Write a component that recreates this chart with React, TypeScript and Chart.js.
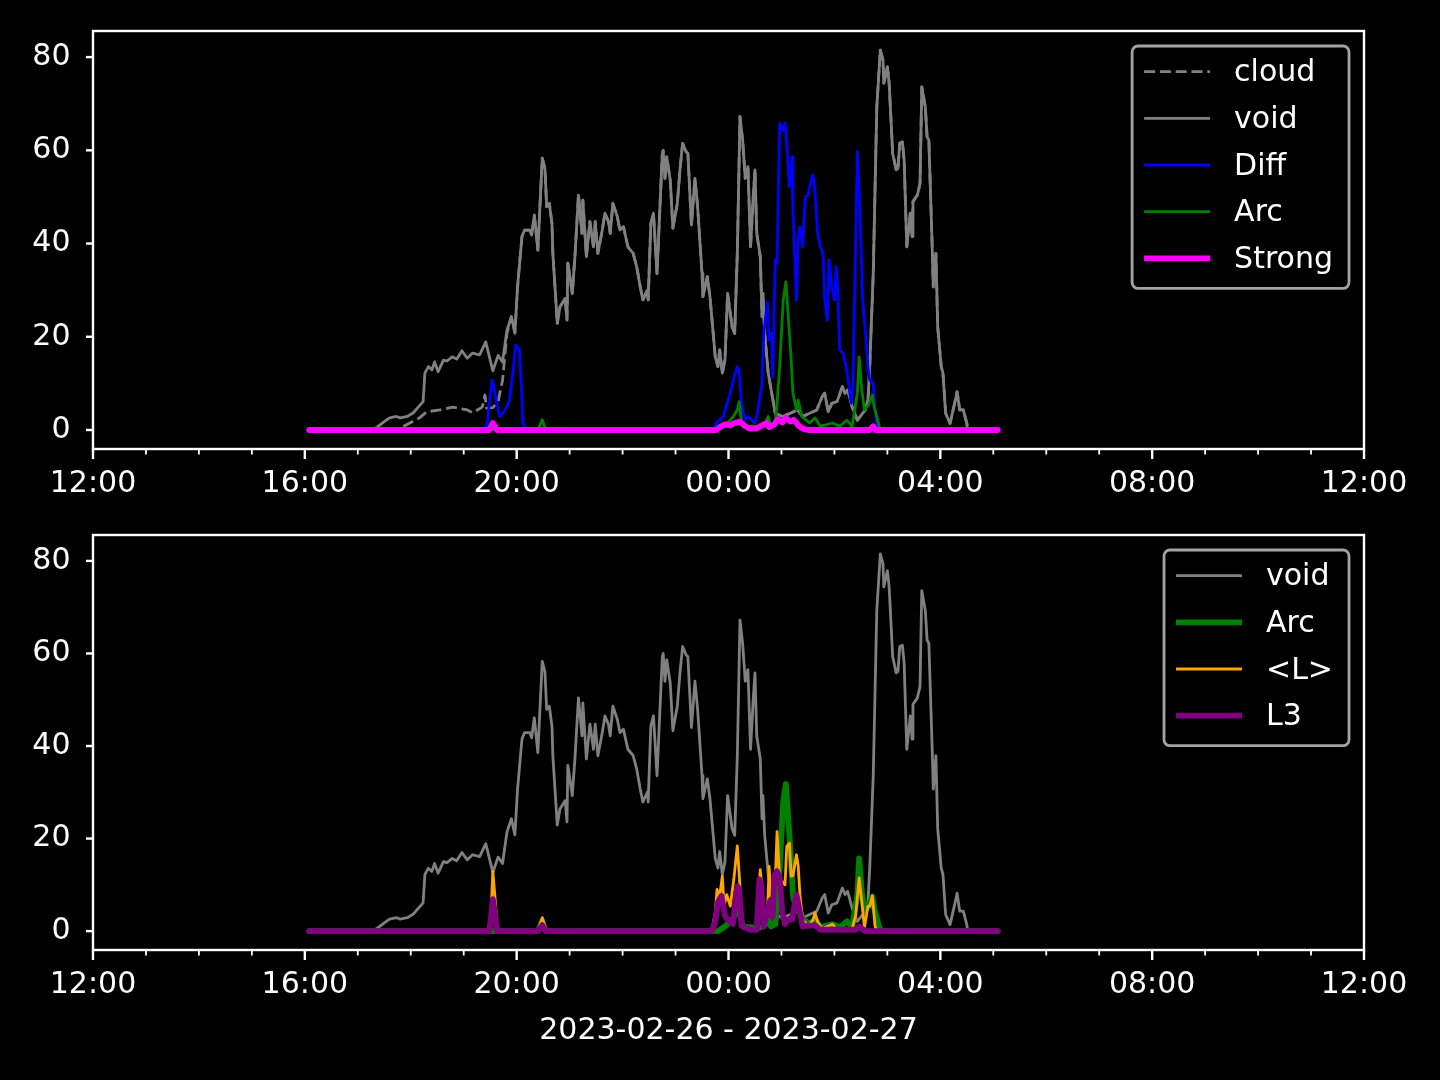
import React, { useEffect, useRef } from "react";
import { Chart, registerables } from "chart.js";
Chart.register(...registerables);

// ---------------- data ----------------
// time of day (2023-02-26 12:00 -> 2023-02-27 12:00), value
const voidSeries: [string, number][] = [
  ["16:05", 0], ["17:16", 0], ["17:22", 0.6], ["17:30", 1.8], ["17:36", 2.6], ["17:44", 2.9], ["17:48", 2.6], ["17:56", 2.9],
  ["18:03", 3.7], ["18:08", 4.8], ["18:14", 6.1], ["18:16", 12.2], ["18:20", 13.6], ["18:24", 12.9], ["18:27", 14.6], ["18:31", 12.5],
  ["18:37", 15], ["18:41", 14.8], ["18:47", 15.7], ["18:52", 15.2], ["18:58", 17], ["19:04", 15.4], ["19:10", 16.5], ["19:18", 16.1],
  ["19:25", 18.9], ["19:30", 15], ["19:33", 12.7], ["19:39", 16], ["19:44", 14.6], ["19:49", 21.4], ["19:54", 24.3], ["19:58", 20.8],
  ["20:01", 30.7], ["20:06", 41.5], ["20:09", 42.9], ["20:15", 42.9], ["20:17", 41.8], ["20:20", 46.1], ["20:24", 38.6], ["20:29", 58.3],
  ["20:32", 56.1], ["20:34", 47.9], ["20:37", 48.6], ["20:40", 44.3], ["20:41", 37.9], ["20:46", 22.9], ["20:49", 26.4], ["20:55", 28.2],
  ["20:57", 23.6], ["20:58", 35.8], ["21:03", 29.3], ["21:06", 37.2], ["21:10", 50.4], ["21:14", 42.2], ["21:15", 49.3], ["21:19", 37.2],
  ["21:23", 44.7], ["21:27", 39.3], ["21:29", 44.7], ["21:32", 37.9], ["21:37", 42.9], ["21:40", 46.5], ["21:44", 44.7], ["21:46", 42.2],
  ["21:49", 48.6], ["21:54", 45.8], ["21:57", 42.9], ["22:01", 43.6], ["22:06", 39.3], ["22:12", 37.9], ["22:16", 35], ["22:20", 30.7],
  ["22:23", 27.9], ["22:28", 30], ["22:29", 27.9], ["22:32", 44.3], ["22:35", 46.5], ["22:39", 33.6], ["22:45", 59.3], ["22:46", 60],
  ["22:48", 54], ["22:50", 58.6], ["22:54", 53.6], ["22:57", 43.3], ["23:02", 48.6], ["23:05", 55.8], ["23:08", 61.5], ["23:12", 59.7],
  ["23:14", 59.3], ["23:18", 44], ["23:22", 54], ["23:25", 47.9], ["23:30", 33.6], ["23:31", 28.6], ["23:36", 32.9], ["23:39", 28.6],
  ["23:45", 15.7], ["23:48", 13.6], ["23:50", 17.2], ["23:53", 12.2], ["23:56", 15], ["23:59", 29.3], ["00:04", 22.2], ["00:07", 20.7],
  ["00:10", 37.9], ["00:13", 67.2], ["00:16", 62.2], ["00:19", 54], ["00:22", 56.5], ["00:25", 39.3], ["00:28", 50], ["00:30", 55.8],
  ["00:32", 42.2], ["00:36", 37.2], ["00:38", 24.3], ["00:39", 29.3], ["00:41", 20.7], ["00:45", 12.2], ["00:49", 7.9], ["00:53", 3.6],
  ["01:01", 2.9], ["01:10", 3.6], ["01:18", 4.3], ["01:24", 2.9], ["01:32", 3.6], ["01:40", 4.3], ["01:46", 7.1], ["01:49", 7.9],
  ["01:53", 3.9], ["01:57", 5.7], ["02:03", 6.1], ["02:09", 9.3], ["02:12", 7.9], ["02:15", 8.6], ["02:20", 5], ["02:26", 2.1],
  ["02:35", 4.3], ["02:38", 6.4], ["02:40", 13.6], ["02:44", 33.6], ["02:48", 69.3], ["02:52", 81.5], ["02:55", 79.4], ["02:56", 74.4],
  ["03:00", 77.9], ["03:02", 74.4], ["03:04", 66.9], ["03:06", 59.3], ["03:10", 55.8], ["03:12", 56.1], ["03:14", 61.5], ["03:17", 61.8],
  ["03:19", 57.9], ["03:22", 39.3], ["03:26", 46.5], ["03:28", 41.5], ["03:29", 49], ["03:34", 50.4], ["03:37", 52.9], ["03:39", 73.6],
  ["03:43", 69.3], ["03:45", 62.9], ["03:47", 62.2], ["03:51", 37.9], ["03:52", 30.7], ["03:55", 37.9], ["03:57", 22.2], ["04:01", 13.6],
  ["04:03", 12.2], ["04:06", 3.6], ["04:11", 1.4], ["04:17", 6.4], ["04:19", 8.2], ["04:22", 4.3], ["04:26", 4.3], ["04:30", 1.4],
  ["04:31", 0], ["05:05", 0],
];

// cloud differs from void only before ~19:55, afterwards it follows void
const cloudEarly: [string, number][] = [
  ["16:05", 0], ["17:42", 0], ["17:52", 0.8], ["17:59", 1.5], ["18:10", 2.6], ["18:18", 3.9], ["18:33", 4.3], ["18:48", 4.9],
  ["19:04", 4.3], ["19:10", 3.7], ["19:21", 4.9], ["19:24", 7.5], ["19:26", 4.7], ["19:33", 4.8], ["19:39", 6.1], ["19:44", 10.7],
  ["19:49", 20.7], ["19:54", 24.3],
];
const cloudJoin = "19:54";

const diffSeries: [string, number][] = [
  ["16:05", 0], ["19:24", 0], ["19:27", 2.1], ["19:32", 10.7], ["19:34", 9.5], ["19:38", 5], ["19:41", 2.9], ["19:47", 4.3],
  ["19:52", 6.4], ["19:56", 12.9], ["19:59", 18.2], ["20:03", 17.2], ["20:06", 7.1], ["20:07", 1.4], ["20:11", 0], ["23:44", 0],
  ["23:46", 1.5], ["23:54", 2.9], ["00:02", 7.9], ["00:06", 11], ["00:10", 13.6], ["00:12", 12.5], ["00:15", 5], ["00:19", 2.1],
  ["00:22", 2.9], ["00:27", 2], ["00:30", 1.5], ["00:33", 3.9], ["00:38", 10], ["00:40", 20.7], ["00:44", 27.5], ["00:46", 19.3],
  ["00:49", 20.7], ["00:50", 11.4], ["00:53", 36.5], ["00:55", 35.8], ["00:58", 65.8], ["01:02", 64.3], ["01:04", 65.8], ["01:06", 61.5],
  ["01:09", 52.2], ["01:12", 58.6], ["01:13", 47.2], ["01:17", 27.9], ["01:19", 41.5], ["01:21", 43.6], ["01:24", 39.3], ["01:27", 50],
  ["01:30", 50.4], ["01:35", 54.7], ["01:37", 53.6], ["01:39", 47.9], ["01:41", 42.2], ["01:44", 39.3], ["01:47", 37.9], ["01:49", 27.9],
  ["01:52", 23.6], ["01:54", 36.5], ["01:57", 30.7], ["02:00", 27.9], ["02:02", 35], ["02:04", 29.3], ["02:06", 17.2], ["02:10", 16.4],
  ["02:14", 12.9], ["02:19", 5.7], ["02:21", 9.3], ["02:26", 59.7], ["02:29", 46.5], ["02:32", 27.9], ["02:35", 21.4], ["02:38", 13.6],
  ["02:40", 10.7], ["02:44", 10], ["02:45", 6.4], ["02:48", 1], ["02:52", 0], ["05:05", 0],
];

const arcSeries: [string, number][] = [
  ["16:05", 0], ["20:24", 0], ["20:29", 2.2], ["20:33", 0], ["23:48", 0], ["23:56", 1], ["00:02", 2.1], ["00:06", 3],
  ["00:10", 4.3], ["00:12", 6.1], ["00:14", 2.9], ["00:16", 1], ["00:24", 0.8], ["00:36", 0.8], ["00:41", 1.2], ["00:45", 2.9],
  ["00:48", 1], ["00:53", 1.5], ["00:55", 5.7], ["00:58", 13.6], ["01:02", 27.9], ["01:05", 31.8], ["01:07", 26.4], ["01:11", 15],
  ["01:13", 7.9], ["01:17", 4.3], ["01:19", 6.4], ["01:23", 2.9], ["01:32", 1.5], ["01:38", 2.6], ["01:44", 0.8], ["01:58", 1.5],
  ["02:06", 0.8], ["02:14", 2.1], ["02:20", 0.8], ["02:23", 4.3], ["02:26", 7.9], ["02:28", 15.7], ["02:31", 8.6], ["02:34", 4.3],
  ["02:37", 5], ["02:39", 5.5], ["02:43", 7.5], ["02:45", 5], ["02:48", 2.9], ["02:51", 0.6], ["02:53", 0], ["05:05", 0],
];

const strongSeries: [string, number][] = [
  ["16:05", 0], ["19:29", 0], ["19:33", 1.5], ["19:38", 0], ["23:46", 0], ["23:50", 0.6], ["23:56", 1.2], ["00:02", 1],
  ["00:07", 1.5], ["00:13", 1.8], ["00:19", 0.8], ["00:24", 0.3], ["00:32", 0.3], ["00:38", 1], ["00:43", 1.5], ["00:46", 0.6],
  ["00:52", 1.2], ["00:56", 2.3], ["01:01", 1.6], ["01:05", 2.6], ["01:10", 1.8], ["01:14", 2.2], ["01:19", 1], ["01:24", 0.3],
  ["01:30", 0], ["02:40", 0], ["02:44", 0.8], ["02:47", 0], ["05:05", 0],
];

const lMeanSeries: [string, number][] = [
  ["16:05", 0], ["19:29", 0], ["19:31", 4], ["19:33", 12.9], ["19:36", 6], ["19:38", 0], ["20:24", 0], ["20:29", 2.9],
  ["20:33", 0.3], ["20:38", 0], ["23:41", 0], ["23:45", 4], ["23:47", 9], ["23:50", 7.5], ["23:53", 11.9], ["23:55", 5.4],
  ["23:58", 7.9], ["00:02", 5.4], ["00:06", 11.2], ["00:10", 18.4], ["00:13", 9.7], ["00:15", 1.1], ["00:24", 0.3], ["00:32", 0.3],
  ["00:35", 10], ["00:36", 13.3], ["00:38", 9], ["00:40", 1.1], ["00:44", 3], ["00:46", 14], ["00:48", 7.6], ["00:53", 11.2],
  ["00:55", 21.5], ["00:58", 11.2], ["01:02", 10.5], ["01:04", 10], ["01:06", 18.3], ["01:09", 19], ["01:11", 11.9], ["01:13", 12],
  ["01:17", 16.5], ["01:19", 14], ["01:21", 7.6], ["01:24", 2.5], ["01:30", 1], ["01:36", 2.5], ["01:38", 4], ["01:41", 2],
  ["01:46", 0.5], ["01:58", 1.5], ["02:02", 0.3], ["02:12", 0.3], ["02:20", 0.5], ["02:24", 3.3], ["02:28", 11.5], ["02:31", 6.5],
  ["02:34", 0.8], ["02:38", 5.4], ["02:40", 5.4], ["02:43", 7.6], ["02:46", 1.1], ["02:48", 0], ["05:05", 0],
];

const l3Series: [string, number][] = [
  ["16:05", 0], ["19:29", 0], ["19:31", 3], ["19:33", 6.9], ["19:36", 3], ["19:38", 0], ["20:24", 0], ["20:29", 1.3],
  ["20:33", 0], ["23:41", 0], ["23:45", 2], ["23:48", 6.2], ["23:52", 7.6], ["23:56", 3.3], ["23:59", 2.5], ["00:05", 1.5],
  ["00:07", 5], ["00:10", 9.7], ["00:12", 9], ["00:15", 1.1], ["00:24", 0.3], ["00:32", 0.3], ["00:35", 11.2], ["00:37", 10],
  ["00:40", 1], ["00:44", 4], ["00:47", 6.5], ["00:50", 3], ["00:52", 12], ["00:55", 12.9], ["00:58", 11.5], ["01:01", 4],
  ["01:04", 1.5], ["01:07", 2.5], ["01:12", 2.5], ["01:17", 7.9], ["01:21", 4], ["01:24", 1], ["01:38", 1.3], ["01:44", 0.3],
  ["02:24", 0.3], ["02:28", 1], ["02:35", 0], ["05:05", 0],
];

const yTicks = [0, 20, 40, 60, 80];
const xStartClock = 12; // axis starts at 12:00
const xSpanHours = 24;
const xMajorStep = 4;
const xLabelText = "2023-02-26 - 2023-02-27";

const topLabels = ["cloud", "void", "Diff", "Arc", "Strong"];
const bottomLabels = ["void", "Arc", "<L>", "L3"];

// ---------------- helpers ----------------
const FONT = "'DejaVu Sans', sans-serif";
const FS = 30;

function toHours(t: string): number {
  const [h, m] = t.split(":").map(Number);
  let mins = h * 60 + m - xStartClock * 60;
  if (mins < 0) mins += 1440;
  return mins / 60;
}
const pts = (s: [string, number][]) => s.map(([t, v]) => ({ x: toHours(t), y: v }));
const cloudSeries: [string, number][] = [
  ...cloudEarly,
  ...voidSeries.filter(([t]) => toHours(t) > toHours(cloudJoin)),
];

type LegendItem = { label: string; color: string; width: number; dash?: number[] };

function axesPlugin(legendItems: LegendItem[]) {
  return {
    id: "axesDeco",
    afterDraw(chart: any) {
      const { ctx, chartArea: a, scales } = chart;
      const xs = scales.x;
      const ys = scales.y;
      ctx.save();
      ctx.strokeStyle = "#ffffff";
      // x ticks
      for (let h = 0; h <= xSpanHours; h++) {
        const px = xs.getPixelForValue(h);
        const major = h % xMajorStep === 0;
        ctx.lineWidth = major ? 2.4 : 1.8;
        ctx.beginPath();
        ctx.moveTo(px, a.bottom);
        ctx.lineTo(px, a.bottom + (major ? 10 : 5.5));
        ctx.stroke();
      }
      // y ticks
      ctx.lineWidth = 2.4;
      for (const v of yTicks) {
        const py = ys.getPixelForValue(v);
        ctx.beginPath();
        ctx.moveTo(a.left - 7, py);
        ctx.lineTo(a.left, py);
        ctx.stroke();
      }
      // spines
      ctx.lineWidth = 2.4;
      ctx.strokeRect(a.left, a.top, a.right - a.left, a.bottom - a.top);

      // legend
      ctx.font = `${FS}px ${FONT}`;
      let maxW = 0;
      for (const it of legendItems) maxW = Math.max(maxW, ctx.measureText(it.label).width);
      const pad = 12, padR = 16, handle = 66, gap = 24, rowH = 46.7;
      const w = pad + handle + gap + maxW + padR;
      const right = a.right - 15;
      const top = a.top + 15;
      const left = right - w;
      const h = 25.6 + rowH * (legendItems.length - 1) + 30;
      const r = 6;
      ctx.beginPath();
      ctx.moveTo(left + r, top);
      ctx.lineTo(right - r, top);
      ctx.arcTo(right, top, right, top + r, r);
      ctx.lineTo(right, top + h - r);
      ctx.arcTo(right, top + h, right - r, top + h, r);
      ctx.lineTo(left + r, top + h);
      ctx.arcTo(left, top + h, left, top + h - r, r);
      ctx.lineTo(left, top + r);
      ctx.arcTo(left, top, left + r, top, r);
      ctx.closePath();
      ctx.fillStyle = "rgba(0,0,0,0.8)";
      ctx.fill();
      ctx.strokeStyle = "rgba(204,204,204,0.8)";
      ctx.lineWidth = 2.8;
      ctx.stroke();
      legendItems.forEach((it, i) => {
        const cy = top + 25.6 + rowH * i;
        const hx = left + pad;
        ctx.strokeStyle = it.color;
        ctx.lineWidth = it.width;
        ctx.setLineDash(it.dash || []);
        ctx.lineCap = it.dash ? "butt" : "square";
        ctx.beginPath();
        ctx.moveTo(hx + (it.dash ? 0 : it.width / 2), cy);
        ctx.lineTo(hx + handle - (it.dash ? 0 : it.width / 2), cy);
        ctx.stroke();
        ctx.setLineDash([]);
        ctx.fillStyle = "#ffffff";
        ctx.textBaseline = "middle";
        ctx.textAlign = "left";
        ctx.fillText(it.label, hx + handle + gap, cy + 2);
      });
      ctx.restore();
    },
  };
}

function lineDs(label: string, data: [string, number][], color: string, width: number, order: number, dash?: number[]) {
  return {
    label,
    data: pts(data),
    borderColor: color,
    backgroundColor: color,
    borderWidth: width,
    borderDash: dash || [],
    borderCapStyle: dash ? "butt" : "round",
    borderJoinStyle: "round",
    pointRadius: 0,
    pointHoverRadius: 0,
    tension: 0,
    fill: false,
    order,
  };
}

function makeOptions(xHeight: number, padTop: number, withTitle: boolean) {
  return {
    responsive: false,
    maintainAspectRatio: false,
    animation: false,
    devicePixelRatio: 1,
    events: [],
    layout: { padding: { left: 0, right: 76, top: padTop, bottom: 0 } },
    plugins: { legend: { display: false }, tooltip: { enabled: false }, title: { display: false } },
    scales: {
      x: {
        type: "linear",
        min: 0,
        max: xSpanHours,
        grid: { display: false, drawTicks: false },
        border: { display: false },
        ticks: {
          stepSize: xMajorStep,
          autoSkip: false,
          maxRotation: 0,
          padding: 17,
          color: "#ffffff",
          font: { family: FONT, size: FS },
          callback: (v: number) => {
            const hh = (xStartClock + Math.round(v)) % 24;
            return `${String(hh).padStart(2, "0")}:00`;
          },
        },
        title: {
          display: withTitle,
          text: xLabelText,
          color: "#ffffff",
          font: { family: FONT, size: FS },
          padding: { top: 0, bottom: 31 },
        },
        afterFit: (s: any) => {
          s.height = xHeight;
          s.paddingLeft = 0;
          s.paddingRight = 0;
        },
      },
      y: {
        type: "linear",
        min: -4.08,
        max: 85.6,
        grid: { display: false, drawTicks: false },
        border: { display: false },
        ticks: {
          padding: 22.5,
          color: "#ffffff",
          font: { family: FONT, size: FS },
        },
        afterBuildTicks: (s: any) => { s.ticks = yTicks.map((v) => ({ value: v })); },
        afterFit: (s: any) => {
          s.width = 93;
          s.paddingTop = 0;
          s.paddingBottom = 0;
        },
      },
    },
  };
}

export default function App() {
  const topRef = useRef<HTMLCanvasElement>(null);
  const botRef = useRef<HTMLCanvasElement>(null);

  useEffect(() => {
    const topItems: LegendItem[] = [
      { label: topLabels[0], color: "#808080", width: 2.8, dash: [11, 4.8] },
      { label: topLabels[1], color: "#808080", width: 2.8 },
      { label: topLabels[2], color: "#0000ff", width: 2.8 },
      { label: topLabels[3], color: "#008000", width: 2.8 },
      { label: topLabels[4], color: "#ff00ff", width: 5.8 },
    ];
    const botItems: LegendItem[] = [
      { label: bottomLabels[0], color: "#808080", width: 2.8 },
      { label: bottomLabels[1], color: "#008000", width: 5.8 },
      { label: bottomLabels[2], color: "#ffa500", width: 2.8 },
      { label: bottomLabels[3], color: "#800080", width: 5.8 },
    ];
    const top = new Chart(topRef.current as HTMLCanvasElement, {
      type: "line",
      data: {
        datasets: [
          lineDs(topLabels[0], cloudSeries, "#808080", 2.8, 5, [11, 4.8]),
          lineDs(topLabels[1], voidSeries, "#808080", 2.8, 4),
          lineDs(topLabels[2], diffSeries, "#0000ff", 2.8, 3),
          lineDs(topLabels[3], arcSeries, "#008000", 2.8, 2),
          lineDs(topLabels[4], strongSeries, "#ff00ff", 5.8, 1),
        ],
      },
      options: makeOptions(51, 31, false) as any,
      plugins: [axesPlugin(topItems)],
    } as any);
    const bot = new Chart(botRef.current as HTMLCanvasElement, {
      type: "line",
      data: {
        datasets: [
          lineDs(bottomLabels[0], voidSeries, "#808080", 2.8, 4),
          lineDs(bottomLabels[1], arcSeries, "#008000", 5.8, 3),
          lineDs(bottomLabels[2], lMeanSeries, "#ffa500", 2.8, 2),
          lineDs(bottomLabels[3], l3Series, "#800080", 5.8, 1),
        ],
      },
      options: makeOptions(130, 35, true) as any,
      plugins: [axesPlugin(botItems)],
    } as any);
    return () => {
      top.destroy();
      bot.destroy();
    };
  }, []);

  return (
    <div style={{ position: "fixed", left: 0, top: 0, width: 1440, height: 1080, background: "#000000", overflow: "hidden" }}>
      <canvas ref={topRef} width={1440} height={500} style={{ position: "absolute", left: 0, top: 0, width: 1440, height: 500 }} />
      <canvas ref={botRef} width={1440} height={580} style={{ position: "absolute", left: 0, top: 500, width: 1440, height: 580 }} />
    </div>
  );
}
